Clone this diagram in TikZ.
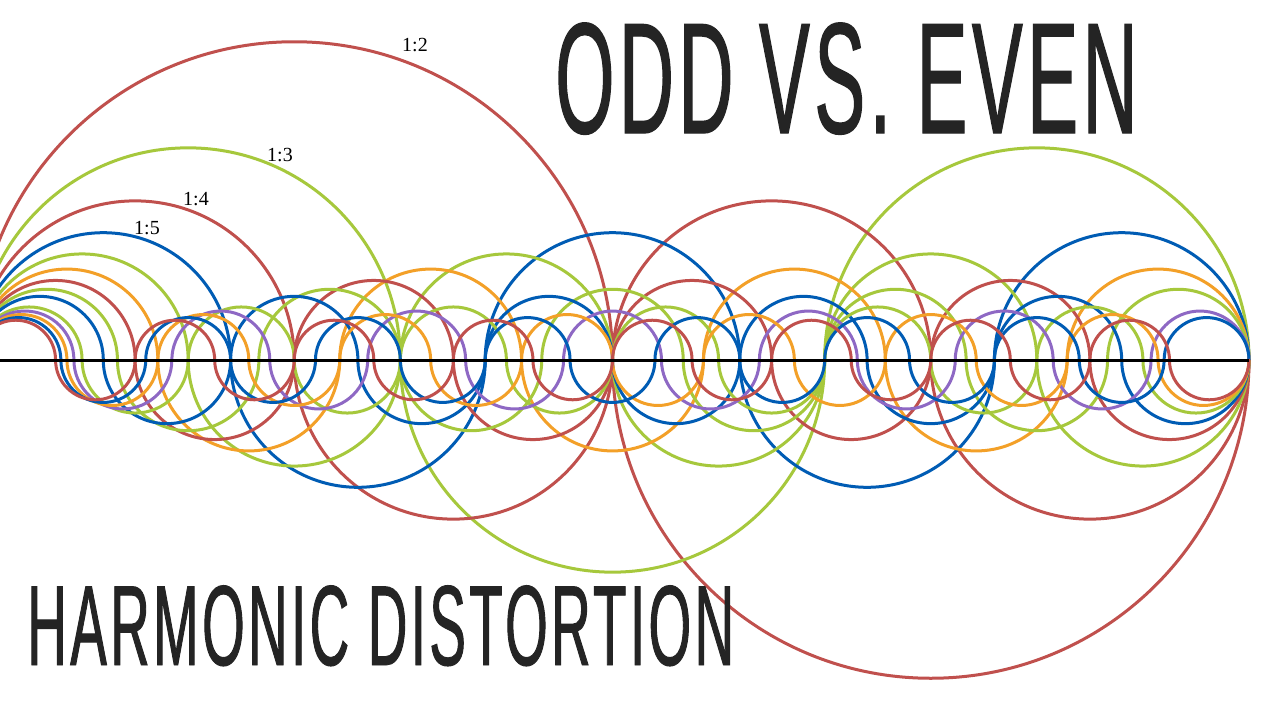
\documentclass[tikz,border=0pt]{standalone}
\usepackage{fontspec}
\setmainfont{Liberation Serif}
\newfontfamily\titlefont[FakeStretch=0.48,LetterSpace=3,FakeBold=0.8]{Liberation Sans}
\usetikzlibrary{positioning}
\definecolor{harmred}{RGB}{192,80,77}
\definecolor{harmgreen}{RGB}{166,200,60}
\definecolor{harmblue}{RGB}{0,92,180}
\definecolor{harmorange}{RGB}{243,160,40}
\definecolor{harmpurple}{RGB}{142,104,196}
\definecolor{titlegrey}{RGB}{36,36,36}
\tikzset{
  wave/.style={
    line width=1.5pt,
    line cap=round
  },
  axisline/.style={
    line width=1.5pt,
    draw=black
  },
  ratiolabel/.style={
    inner sep=0pt,
    font=\fontsize{10}{10}\selectfont
  },
  titletext/.style={
    inner sep=0pt,
    anchor=base west,
    text=titlegrey
  }
}

\begin{document}
\begin{tikzpicture}[x=0.5pt, y=0.5pt]
\clip (0,0) rectangle (1280,720);
\fill[white] (0,0) rectangle (1280,720);

% harmonic waves: n half circles between the two end points
\coordinate (wavestart) at (-24,360);
\coordinate (waveend) at (1249,360);
\foreach \n/\col in {2/harmred,3/harmgreen,4/harmred,5/harmblue,6/harmgreen,
  7/harmorange,8/harmred,9/harmgreen,10/harmblue,12/harmgreen,13/harmpurple,
  14/harmorange,15/harmblue,16/harmred}{
  \pgfmathsetmacro\r{1273/(2*\n)}
  \draw[wave, draw=\col] (wavestart)
    \foreach \k [evaluate=\k as \d using {360*mod(\k+1,2)-180}] in {1,...,\n}{
      arc[start angle=180, delta angle=\d, radius=\r]
    };
}

\draw[axisline] (wavestart) -- (waveend);

% ratio labels
\node[ratiolabel] (lbltwo) at (415,675) {1:2};
\node[ratiolabel] (lblthree) at (280,565) {1:3};
\node[ratiolabel] (lblfour) at (196,521) {1:4};
\node[ratiolabel] (lblfive) at (147,492) {1:5};

% titles
\node[titletext, font=\titlefont\fontsize{79}{79}\selectfont] (oddeven) at (555,587) {ODD VS. EVEN};
\node[titletext, font=\titlefont\fontsize{57}{57}\selectfont] (harmdist) at (27,55) {HARMONIC DISTORTION};
\end{tikzpicture}
\end{document}
